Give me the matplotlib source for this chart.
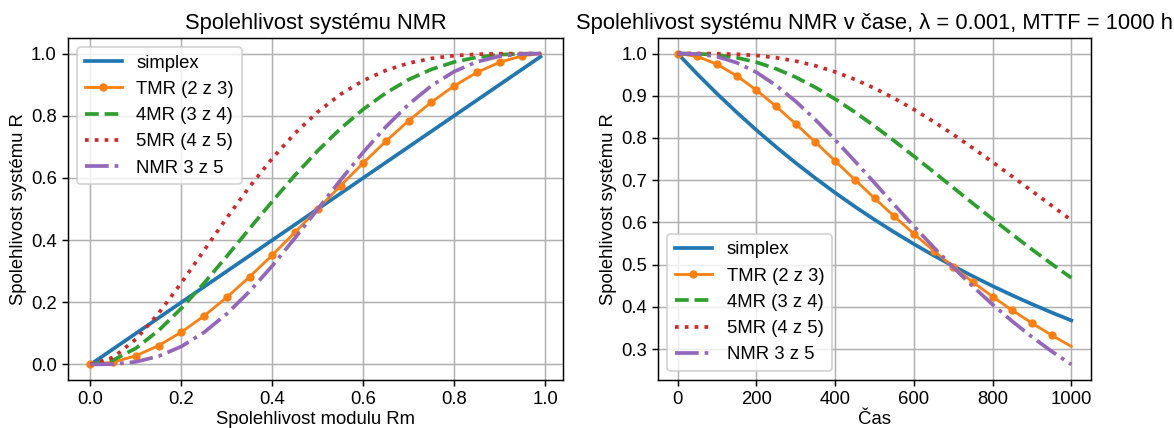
import matplotlib
matplotlib.use("Agg")
import matplotlib.pyplot as plt

plt.rcParams['font.family'] = ['Liberation Sans', 'DejaVu Sans']

# Left panel - reliability vs module reliability Rm
rm = [0.0, 0.05, 0.10, 0.15, 0.20, 0.25, 0.30, 0.35, 0.40, 0.45, 0.50,
      0.55, 0.60, 0.65, 0.70, 0.75, 0.80, 0.85, 0.90, 0.95, 0.99]
simplex_rm = rm
tmr_rm = [0.0, 0.0073, 0.028, 0.0608, 0.104, 0.1563, 0.216, 0.2818, 0.352, 0.4253, 0.5,
          0.5748, 0.648, 0.7183, 0.784, 0.8438, 0.896, 0.9393, 0.972, 0.9928, 0.9997]
mr4_rm = [0.0, 0.014, 0.0523, 0.1095, 0.1808, 0.2617, 0.3483, 0.437, 0.5248, 0.609, 0.6875,
          0.7585, 0.8208, 0.8735, 0.9163, 0.9492, 0.9728, 0.988, 0.9963, 0.9995, 1.0]
mr5_rm = [0.0, 0.0226, 0.0815, 0.1648, 0.2627, 0.3672, 0.4718, 0.5716, 0.663, 0.7438, 0.8125,
          0.8688, 0.913, 0.946, 0.9692, 0.9844, 0.9933, 0.9978, 0.9995, 1.0, 1.0]
nmr35_rm = [0.0, 0.0012, 0.0086, 0.0266, 0.0579, 0.1035, 0.1631, 0.2352, 0.3174, 0.4069, 0.5,
            0.5931, 0.6826, 0.7648, 0.8369, 0.8965, 0.9421, 0.9734, 0.9914, 0.9988, 1.0]

# Right panel - reliability over time
t = [0, 50, 100, 150, 200, 250, 300, 350, 400, 450, 500,
     550, 600, 650, 700, 750, 800, 850, 900, 950, 1000]
simplex_t = [1.0, 0.9512, 0.9048, 0.8607, 0.8187, 0.7788, 0.7408, 0.7047, 0.6703, 0.6376, 0.6065,
             0.577, 0.5488, 0.522, 0.4966, 0.4724, 0.4493, 0.4274, 0.4066, 0.3867, 0.3679]
tmr_t = [1.0, 0.9931, 0.9746, 0.9472, 0.9133, 0.8749, 0.8333, 0.7899, 0.7456, 0.7012, 0.6574,
         0.6145, 0.573, 0.5331, 0.4949, 0.4586, 0.4243, 0.3919, 0.3615, 0.333, 0.3064]
mr4_t = [1.0, 0.9996, 0.9968, 0.9903, 0.9794, 0.9639, 0.9439, 0.9198, 0.8921, 0.8614, 0.8282,
         0.7932, 0.7569, 0.7198, 0.6824, 0.645, 0.6079, 0.5716, 0.5361, 0.5018, 0.4687]
mr5_t = [1.0, 1.0, 0.9996, 0.9983, 0.9954, 0.9902, 0.9821, 0.971, 0.9565, 0.9388, 0.9179,
         0.8941, 0.8676, 0.8388, 0.8082, 0.7761, 0.7428, 0.7087, 0.6743, 0.6398, 0.6054]
nmr35_t = [1.0, 0.9989, 0.9926, 0.9783, 0.9555, 0.9245, 0.8866, 0.8431, 0.7955, 0.7453, 0.6938,
           0.642, 0.5909, 0.5413, 0.4936, 0.4483, 0.4056, 0.3658, 0.3289, 0.2948, 0.2636]

labels = ["simplex", "TMR (2 z 3)", "4MR (3 z 4)", "5MR (4 z 5)", "NMR 3 z 5"]

DPI = 400 / 3
fig = plt.figure(figsize=(1174 / DPI, 428 / DPI), dpi=DPI)
ax1 = fig.add_axes([0.0579, 0.1121, 0.4217, 0.7991])
ax2 = fig.add_axes([0.5605, 0.1121, 0.3688, 0.7991])


def draw(ax, x, series):
    s, tmr, m4, m5, n35 = series
    ax.plot(x, s, color="tab:blue", lw=2, label=labels[0])
    ax.plot(x, tmr, color="tab:orange", lw=1.5, marker="o", ms=3.5,
            markevery=list(range(len(x) - 1)), label=labels[1])
    ax.plot(x, m4, color="tab:green", lw=2, ls="--", label=labels[2])
    ax.plot(x, m5, color="tab:red", lw=2, ls=":", label=labels[3])
    ax.plot(x, n35, color="tab:purple", lw=2, ls="-.", label=labels[4])
    ax.grid(True)
    ax.tick_params(pad=2.5)
    ax.set_ylabel("Spolehlivost systému R", labelpad=2)


draw(ax1, rm, [simplex_rm, tmr_rm, mr4_rm, mr5_rm, nmr35_rm])
ax1.set_title("Spolehlivost systému NMR", fontsize=11.8, pad=5)
ax1.set_xlabel("Spolehlivost modulu Rm", labelpad=1.5)
ax1.legend(loc="upper left")

draw(ax2, t, [simplex_t, tmr_t, mr4_t, mr5_t, nmr35_t])
ax2.set_title("Spolehlivost systému NMR v čase, λ = 0.001, MTTF = 1000 h",
              fontsize=11.8, pad=5)
ax2.set_xlabel("Čas", labelpad=1.5)
ax2.legend(loc="lower left")

fig.savefig("out.png", dpi=DPI)
